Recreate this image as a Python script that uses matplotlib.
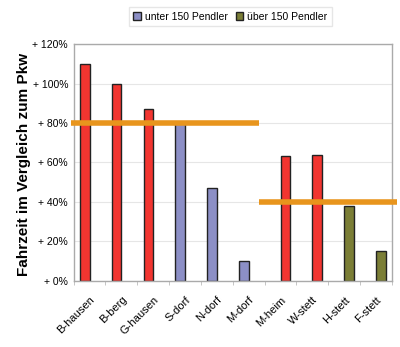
import matplotlib
matplotlib.use("Agg")
import matplotlib.pyplot as plt
import matplotlib.transforms as mtransforms
from matplotlib.patches import Patch
import numpy as np

plt.rcParams["font.family"] = ["Liberation Sans", "DejaVu Sans"]

orte = ["B-hausen", "B-berg", "G-hausen", "S-dorf", "N-dorf", "M-dorf",
        "M-heim", "W-stett", "H-stett", "F-stett"]
# unter 150 Pendler (linke Säule), über 150 Pendler (rechte Säule)
unter = [110, 100, 87, 80, 47, 10, None, None, None, None]
ueber = [None, None, None, None, None, None, 63, 64, 38, 15]
rot = ["B-hausen", "B-berg", "G-hausen", "M-heim", "W-stett"]
y_ticks = [0, 20, 40, 60, 80, 100, 120]
# Richtwerte (orange Linien): Wert, von, bis (Kategorie-Index)
richtwerte = [(80, -0.58, 5.33), (40, 5.33, 9.67)]

c_rot = "#f23530"
c_unter = "#8c8fc6"
c_ueber = "#7b7e36"
c_orange = "#e8951d"

fig = plt.figure(figsize=(4.0, 3.47), dpi=100)
ax = fig.add_axes([0.184, 0.191, 0.796, 0.682])

x = np.arange(len(orte))
w = 0.3
for i, name in enumerate(orte):
    if unter[i] is not None:
        c = c_rot if name in rot else c_unter
        ax.bar(x[i] - w / 2, unter[i], width=w, color=c, edgecolor="#222222",
               linewidth=1.0, zorder=2)
    if ueber[i] is not None:
        c = c_rot if name in rot else c_ueber
        ax.bar(x[i] + w / 2, ueber[i], width=w, color=c, edgecolor="#222222",
               linewidth=1.0, zorder=2)

for val, x0, x1 in richtwerte:
    ax.plot([x0, x1], [val, val], color=c_orange, linewidth=4,
            solid_capstyle="butt", clip_on=False, zorder=3)

ax.set_xlim(-0.5, len(orte) - 0.5)
ax.set_ylim(0, 120)
ax.set_yticks(y_ticks)
ax.set_yticklabels([f"+ {v}%" for v in y_ticks], fontsize=7.5)
ax.set_xticks(x)
ax.set_xticklabels(orte, rotation=45, ha="right", rotation_mode="anchor",
                   fontsize=8)
# labels sit a bit left of the category centre
shift = mtransforms.ScaledTranslation(-5 / 100, 0, fig.dpi_scale_trans)
for lbl in ax.get_xticklabels():
    lbl.set_transform(lbl.get_transform() + shift)
ax.set_xticks(np.arange(-0.5, len(orte)), minor=True)
ax.tick_params(axis="x", which="major", length=0, pad=10)
ax.tick_params(axis="x", which="minor", length=3, color="#bbbbbb")
ax.tick_params(axis="y", length=0, pad=4)
ax.grid(axis="y", color="#e6e6e6", linewidth=0.8, zorder=0)
ax.set_axisbelow(True)
for s in ax.spines.values():
    s.set_color("#aaaaaa")
    s.set_linewidth(1.0)

ax.set_ylabel("Fahrzeit im Vergleich zum Pkw", fontsize=11, fontweight="bold")
ax.yaxis.set_label_coords(-0.134, 0.49)

handles = [Patch(facecolor=c_unter, edgecolor="#222222", label="unter 150 Pendler"),
           Patch(facecolor=c_ueber, edgecolor="#222222", label="über 150 Pendler")]
fig.legend(handles=handles, loc="upper center", bbox_to_anchor=(0.576, 0.995),
           ncol=2, fontsize=7.5, frameon=True, fancybox=False, edgecolor="#e0e0e0",
           handlelength=0.7, handleheight=0.7, handletextpad=0.4,
           columnspacing=0.8, borderpad=0.45)

fig.savefig("out.png", dpi=100)
